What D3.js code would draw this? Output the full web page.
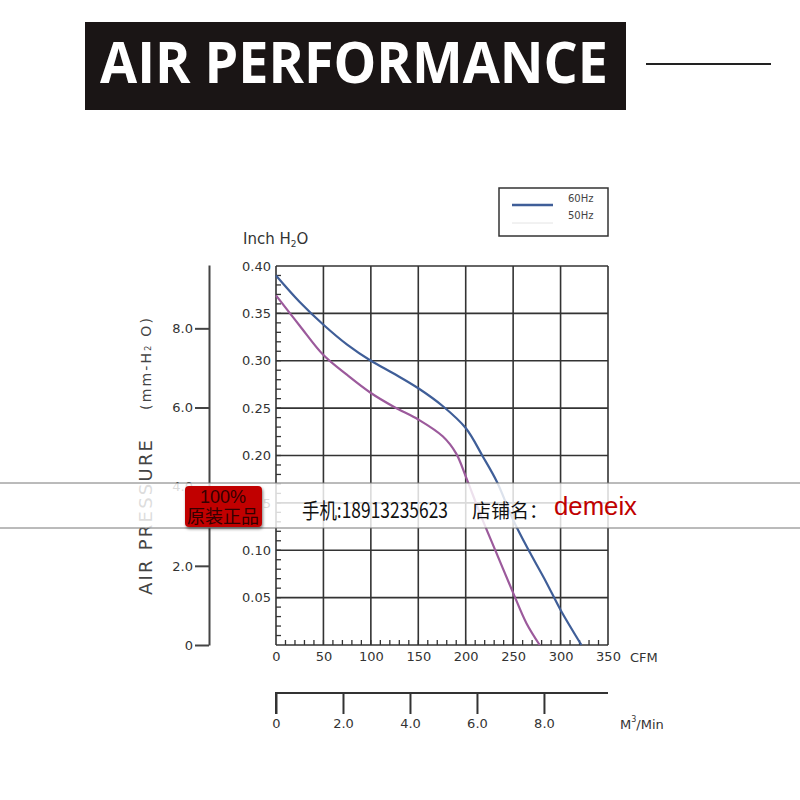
<!DOCTYPE html>
<html>
<head>
<meta charset="utf-8">
<script src="https://cdn.jsdelivr.net/npm/d3@7"></script>
<style>
  body { margin: 0; background: #fff; }
  svg { display: block; }
  .tick text { fill: #333; }
</style>
</head>
<body>
<div id="chart"></div>
<script>
// 60Hz curve (CFM, inch H2O)
var cfm60 = [0, 25, 50, 75, 100, 125, 150, 176, 200, 218, 233, 250, 268, 285, 300, 322]
var p60 = [0.390, 0.362, 0.338, 0.317, 0.300, 0.286, 0.271, 0.252, 0.229, 0.199, 0.172, 0.132, 0.097, 0.066, 0.037, 0]
// 50Hz curve
var cfm50 = [0, 25, 50, 75, 100, 125, 150, 176, 190, 200, 215, 232, 250, 264, 278]
var p50 = [0.369, 0.337, 0.306, 0.285, 0.266, 0.251, 0.238, 0.220, 0.202, 0.178, 0.139, 0.098, 0.055, 0.023, 0]

var cfmTicks = [0, 50, 100, 150, 200, 250, 300, 350]
var inchTicks = [0, 0.05, 0.10, 0.15, 0.20, 0.25, 0.30, 0.35, 0.40]
var mmTicks = [0, 2, 4, 6, 8]
var m3Ticks = [0, 2, 4, 6, 8]
var legendNames = ['60Hz', '50Hz']

var svg = d3.select('#chart').append('svg')
  .attr('width', 800).attr('height', 800)

// title bar
svg.append('rect').attr('x', 85).attr('y', 22).attr('width', 541).attr('height', 88)
  .attr('fill', '#1a1515')
svg.append('text').attr('x', 100).attr('y', 83)
  .attr('textLength', 508).attr('lengthAdjust', 'spacingAndGlyphs')
  .style('font-family', '"Open Sans", sans-serif').style('font-weight', 'bold')
  .style('font-size', '57px').attr('fill', '#fff')
  .text('AIR PERFORMANCE')
svg.append('line').attr('x1', 646).attr('x2', 771).attr('y1', 64).attr('y2', 64)
  .attr('stroke', '#222').attr('stroke-width', 2)

var x = d3.scaleLinear().domain([0, 350]).range([276, 608])
var y = d3.scaleLinear().domain([0, 0.40]).range([645, 266])
var mm = d3.scaleLinear().domain([0, 9.6]).range([645, 265])
var m3 = d3.scaleLinear().domain([0, 350 * 0.02832]).range([276, 608])

var font = 'Verdana, "DejaVu Sans", sans-serif'

// grid
var grid = svg.append('g')
grid.selectAll('.vx').data(cfmTicks).enter().append('line')
  .attr('x1', function (d) { return x(d) }).attr('x2', function (d) { return x(d) })
  .attr('y1', y(0)).attr('y2', y(0.40))
  .attr('stroke', '#333').attr('stroke-width', 1.6)
grid.selectAll('.hy').data(inchTicks).enter().append('line')
  .attr('y1', function (d) { return y(d) }).attr('y2', function (d) { return y(d) })
  .attr('x1', x(0)).attr('x2', x(350))
  .attr('stroke', '#333').attr('stroke-width', 1.6)

// minor ticks
var minorY = d3.range(1, 40).map(function (i) { return i / 100 })
grid.selectAll('.my').data(minorY).enter().append('line')
  .attr('x1', x(0)).attr('x2', x(0) + 5)
  .attr('y1', function (d) { return y(d) }).attr('y2', function (d) { return y(d) })
  .attr('stroke', '#333').attr('stroke-width', 1.3)
var minorX = d3.range(1, 35).map(function (i) { return i * 10 })
grid.selectAll('.mx').data(minorX).enter().append('line')
  .attr('y1', y(0)).attr('y2', y(0) - 5)
  .attr('x1', function (d) { return x(d) }).attr('x2', function (d) { return x(d) })
  .attr('stroke', '#333').attr('stroke-width', 1.3)

// inch labels
var yAxis = svg.append('g').attr('transform', 'translate(' + x(0) + ',0)')
  .call(d3.axisLeft(y).tickValues(inchTicks.slice(1)).tickSize(0).tickPadding(5)
    .tickFormat(d3.format('.2f')))
yAxis.select('.domain').remove()
yAxis.selectAll('text').style('font-family', font).style('font-size', '13px')

// cfm labels
var xAxis = svg.append('g').attr('transform', 'translate(0,' + y(0) + ')')
  .call(d3.axisBottom(x).tickValues(cfmTicks).tickSize(0).tickPadding(7)
    .tickFormat(d3.format('d')))
xAxis.select('.domain').remove()
xAxis.selectAll('text').style('font-family', font).style('font-size', '13px')

svg.append('text').attr('x', 630).attr('y', 662)
  .style('font-family', font).style('font-size', '13px').attr('fill', '#333').text('CFM')

svg.append('text').attr('x', 243).attr('y', 244)
  .style('font-family', font).style('font-size', '15px').attr('fill', '#333')
  .html('Inch H<tspan dy="3" font-size="9px">2</tspan><tspan dy="-3">O</tspan>')

// mm axis
var mmAxis = svg.append('g').attr('transform', 'translate(209,0)')
  .call(d3.axisLeft(mm).tickValues(mmTicks).tickSize(14).tickSizeOuter(0).tickPadding(2)
    .tickFormat(function (d) { return d === 0 ? '0' : d.toFixed(1) }))
mmAxis.selectAll('path, line').attr('stroke', '#444').attr('stroke-width', 2)
mmAxis.selectAll('text').style('font-family', font).style('font-size', '13px')

svg.append('text').attr('transform', 'translate(152,595) rotate(-90)')
  .attr('textLength', 155).attr('lengthAdjust', 'spacing')
  .style('font-family', font).style('font-size', '18px').attr('fill', '#444')
  .text('AIR PRESSURE')
svg.append('text').attr('transform', 'translate(151,410) rotate(-90)')
  .attr('textLength', 92).attr('lengthAdjust', 'spacing')
  .style('font-family', font).style('font-size', '14px').attr('fill', '#444')
  .html('(mm-H<tspan font-size="8px">2</tspan> O)')

// m3/min axis
var m3Axis = svg.append('g').attr('transform', 'translate(0,693)')
  .call(d3.axisBottom(m3).tickValues(m3Ticks).tickSize(21).tickSizeOuter(0).tickPadding(5)
    .tickFormat(function (d) { return d === 0 ? '0' : d.toFixed(1) }))
m3Axis.select('.domain').attr('d', 'M' + x(0) + ',21V0H' + x(350))
m3Axis.selectAll('path, line').attr('stroke', '#333').attr('stroke-width', 2)
m3Axis.selectAll('text').style('font-family', font).style('font-size', '13px')

svg.append('text').attr('x', 620).attr('y', 729)
  .style('font-family', font).style('font-size', '13px').attr('fill', '#333')
  .html('M<tspan dy="-7" font-size="8px">3</tspan><tspan dy="7">/Min</tspan>')

// curves
var line = d3.line()
  .x(function (d) { return x(d[0]) })
  .y(function (d) { return y(d[1]) })
  .curve(d3.curveCatmullRom.alpha(0.5))

svg.append('path').datum(d3.zip(cfm50, p50)).attr('d', line)
  .attr('fill', 'none').attr('stroke', '#9c5a9c').attr('stroke-width', 2.2)
svg.append('path').datum(d3.zip(cfm60, p60)).attr('d', line)
  .attr('fill', 'none').attr('stroke', '#3f5e98').attr('stroke-width', 2.2)

// legend
var lg = svg.append('g')
lg.append('rect').attr('x', 499).attr('y', 188).attr('width', 109).attr('height', 48)
  .attr('fill', '#fff').attr('stroke', '#333').attr('stroke-width', 1.5)
var legendColors = ['#3f5e98', '#e4e4e4']
legendNames.forEach(function (n, i) {
  lg.append('line').attr('x1', 512).attr('x2', 553)
    .attr('y1', 205 + i * 18).attr('y2', 205 + i * 18)
    .attr('stroke', legendColors[i]).attr('stroke-width', i === 0 ? 2.5 : 1)
  lg.append('text').attr('x', 568).attr('y', 202 + i * 17)
    .style('font-family', font).style('font-size', '10px').attr('fill', '#444')
    .text(n)
})

// watermark band
svg.append('rect').attr('x', 0).attr('y', 483).attr('width', 800).attr('height', 45)
  .attr('fill', '#fff').attr('fill-opacity', 0.82)
svg.append('line').attr('x1', 0).attr('x2', 800).attr('y1', 483).attr('y2', 483)
  .attr('stroke', '#777').attr('stroke-width', 1)
svg.append('line').attr('x1', 0).attr('x2', 800).attr('y1', 528).attr('y2', 528)
  .attr('stroke', '#777').attr('stroke-width', 1)

var defs = svg.append('defs')
var f = defs.append('filter').attr('id', 'sh').attr('x', '-20%').attr('y', '-20%')
  .attr('width', '140%').attr('height', '140%')
f.append('feDropShadow').attr('dx', 1).attr('dy', 2).attr('stdDeviation', 1.5)
  .attr('flood-color', '#000').attr('flood-opacity', 0.5)
svg.append('rect').attr('x', 185).attr('y', 486).attr('width', 77).attr('height', 41)
  .attr('rx', 4).attr('fill', '#c10202').attr('filter', 'url(#sh)')
var cjk = '"Noto Sans CJK SC", sans-serif'
svg.append('text').attr('x', 223).attr('y', 503).attr('text-anchor', 'middle')
  .style('font-family', 'Arial, "Liberation Sans", sans-serif').style('font-size', '18px')
  .attr('fill', '#300').text('100%')
svg.append('text').attr('x', 223).attr('y', 523).attr('text-anchor', 'middle')
  .style('font-family', cjk).style('font-size', '18px').attr('fill', '#300')
  .text('原装正品')

svg.append('text').attr('x', 302).attr('y', 518)
  .attr('textLength', 146).attr('lengthAdjust', 'spacingAndGlyphs')
  .style('font-family', cjk).style('font-size', '21px').attr('fill', '#111')
  .text('手机:18913235623')
svg.append('text').attr('x', 472).attr('y', 518)
  .attr('textLength', 76).attr('lengthAdjust', 'spacingAndGlyphs')
  .style('font-family', cjk).style('font-size', '19px').attr('fill', '#111')
  .text('店铺名：')
svg.append('text').attr('x', 554).attr('y', 515)
  .attr('textLength', 83).attr('lengthAdjust', 'spacingAndGlyphs')
  .style('font-family', 'Arial, "Liberation Sans", sans-serif').style('font-size', '25px')
  .attr('fill', '#c00000').text('demeix')
</script>
</body>
</html>
